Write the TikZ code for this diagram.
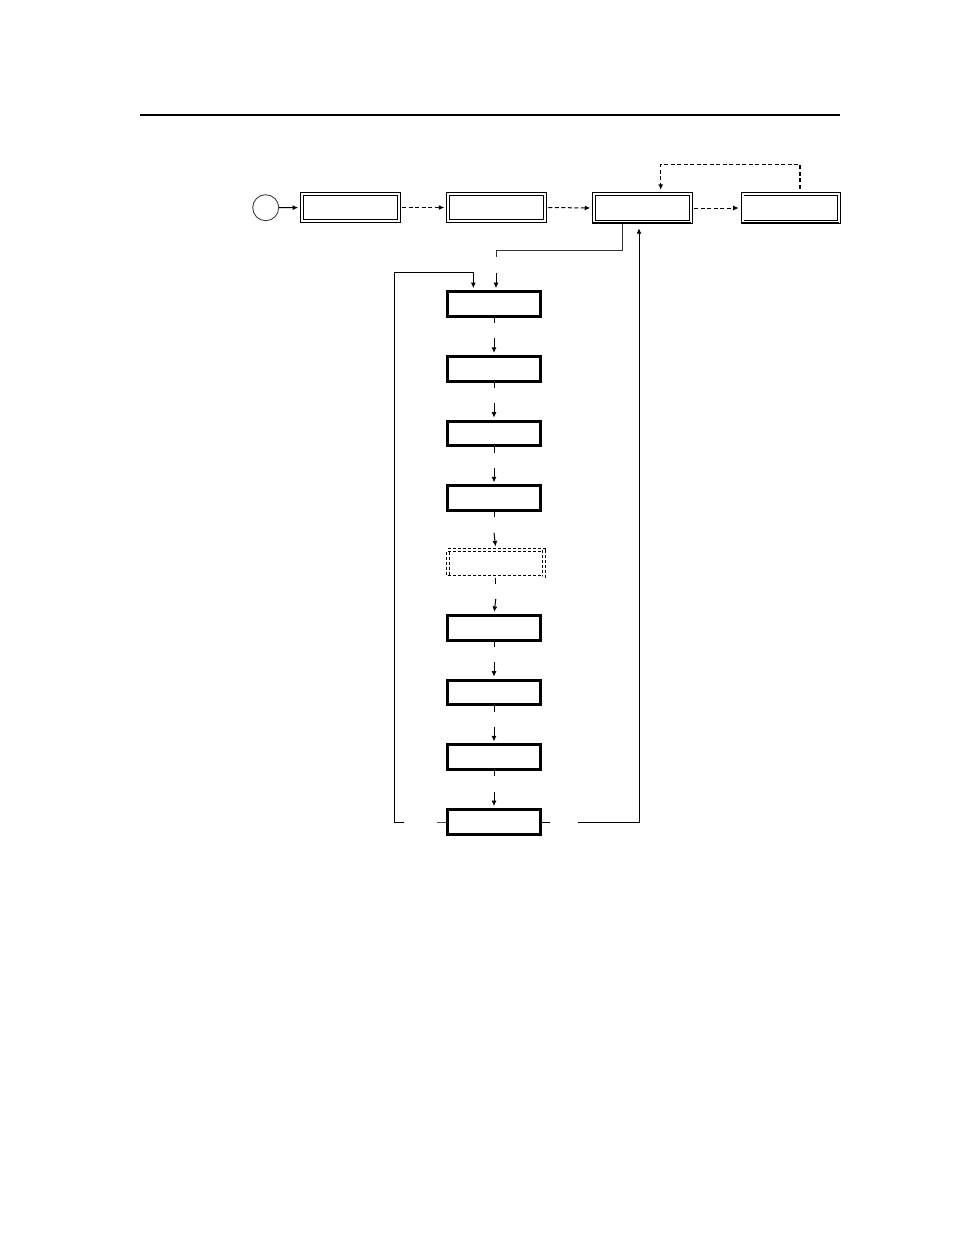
\documentclass[tikz,border=0pt]{standalone}
\usetikzlibrary{arrows.meta}

\begin{document}
\begin{tikzpicture}[x=1pt,y=-1pt,shorten >=2pt,-,>={Latex[length=5.5pt,width=5pt]}]
                \tikzstyle{stepbox}=[rectangle,draw=black,line width=3pt,minimum width=93.6pt,minimum height=24.7pt,inner sep=0pt]
                \tikzstyle{optbox}=[rectangle,draw=black,dashed,dash pattern=on 3pt off 2pt,double,double distance=2pt,line width=0.7pt,outer sep=1.7pt,minimum width=96pt,minimum height=26.4pt,inner sep=0pt]
                \tikzstyle{topbox}=[rectangle,draw=black,double,double distance=2pt,line width=0.9pt,outer sep=1.9pt,minimum width=96.7pt,inner sep=0pt]
                \tikzstyle{link}=[line width=1pt]
                \tikzstyle{dlink}=[line width=1pt,dash pattern=on 4pt off 2.5pt]
                \useasboundingbox (0,0) rectangle (954,1235);

                % header rule
                \draw[line width=2pt] (140,114.7) -- (842,114.7);

                % top row
                \node[circle,draw=black!75,line width=0.9pt,minimum size=26pt,inner sep=0pt] (start) at (265.7,207.7) {};
                \foreach \num/\x/\y/\h in {1/350.4/207.5/27.6, 2/496.5/207.5/27.6, 3/642.5/208/28.6, 4/790.9/208/28.6}
                        \node[topbox,minimum height=\h pt] (T-\num) at (\x,\y) {};
                \foreach \num in {3,4}
                        \draw[line width=1.8pt] ([yshift=0.9pt]T-\num.south west) -- ([yshift=0.9pt]T-\num.south east);

                \draw[link,->] (start) -- (T-1);
                \foreach \from/\to in {1/2, 2/3, 3/4}
                        \draw[dlink,->] ([xshift=1.5pt]T-\from.east) -- (T-\to.west);
                \draw[dlink,line width=1.4pt,->] ([xshift=9pt,yshift=3pt]T-4.north) -- ++(0,-24.4) -| ([xshift=18.2pt]T-3.north);

                % vertical chain
                \foreach \num/\y in {1/304, 2/368.75, 3/433.5, 4/498.25, 6/627.75, 7/692.5, 8/757.25, 9/822}
                        \node[stepbox] (S-\num) at (494,\y) {};
                \node[optbox] (S-5) at (495.8,563.3) {};

                \foreach \from/\to in {1/2, 2/3, 3/4, 4/5, 5/6, 6/7, 7/8, 8/9}
                {
                        \draw[link] (S-\from.south) -- ++(0,7.3);
                        \draw[link,->] ([yshift=-20.6pt]S-\from.south) -- (S-\to.north);
                }

                % from the third top box down to the chain
                \draw[link,black!80] ([xshift=-20.2pt]T-3.south) |- ([xshift=2pt,yshift=39.3pt]S-1.north) -- ([xshift=2pt,yshift=30.7pt]S-1.north);
                \draw[link,->] ([xshift=2pt,yshift=16.7pt]S-1.north) -- ([xshift=2pt]S-1.north);

                % loop back to the start of the chain
                \coordinate (loopL) at (394.3,272.5);
                \draw[link,black!70] (S-9.west) -- ++(-10.7,0);
                \draw[link,->] ([xshift=-41.4pt]S-9.west) -| (loopL) -| ([xshift=-20.7pt]S-1.north);

                % loop back to the third top box
                \draw[link] (S-9.east) -- ++(9.4,0);
                \draw[link,shorten >=4pt,->] ([xshift=36pt]S-9.east) -| ([xshift=-3.5pt]T-3.south);
\end{tikzpicture}
\end{document}
